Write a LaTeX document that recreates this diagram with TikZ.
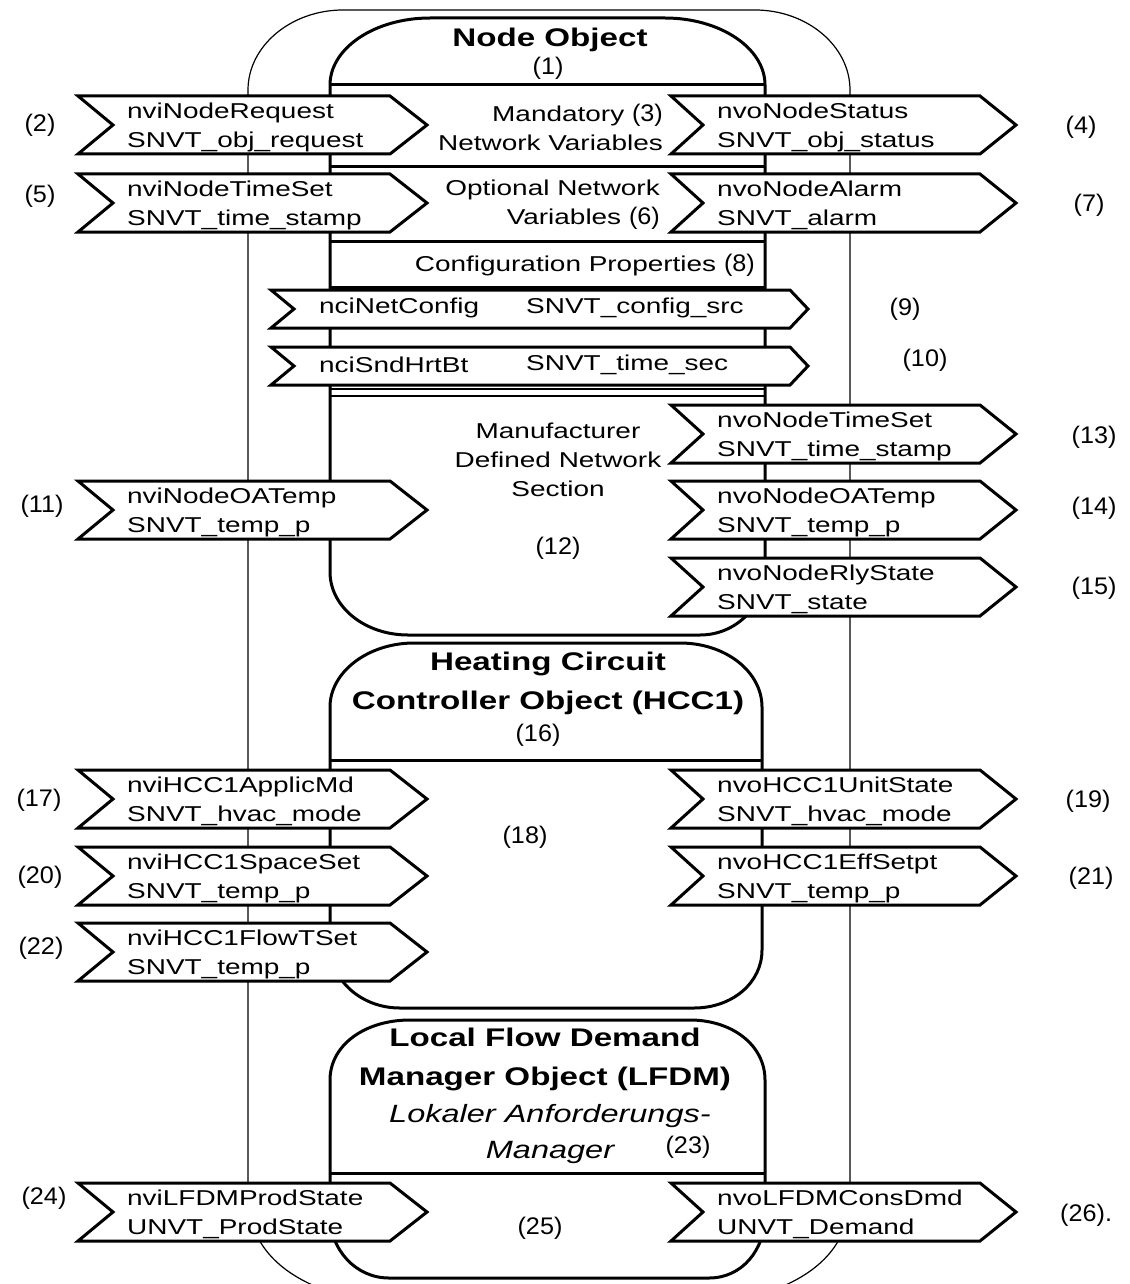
\documentclass[tikz,border=0pt]{standalone}
\usepackage{fontspec}
\setmainfont{Liberation Sans}
\newfontfamily\lblfont[FakeStretch=1.3]{Liberation Sans}
\newfontfamily\numfont[FakeStretch=1.05]{Liberation Sans}
\newcommand{\inum}[1]{{\numfont\fontsize{24}{29}\selectfont #1}}
\tikzset{
  thinline/.style={line width=1.2pt},
  thickline/.style={line width=3pt},
  chevbox/.style={line width=3pt, fill=white, line join=miter},
  lbl/.style={font=\lblfont\fontsize{21.5}{29}\selectfont, inner sep=0pt, align=left},
  num/.style={font=\numfont\fontsize{24}{28}\selectfont, inner sep=0pt},
  ttl/.style={font=\lblfont\bfseries\fontsize{25.5}{39}\selectfont, inner sep=0pt, align=center},
  ital/.style={font=\lblfont\itshape\fontsize{25}{36}\selectfont, inner sep=0pt, align=center},
}
% xl, yt, xr, xt, notch, h
\newcommand{\chevshape}[6]{%
  \draw[chevbox] (#1,#2) -- (#3,#2) -- (#4,{#2+#6/2}) -- (#3,{#2+#6}) -- (#1,{#2+#6}) -- ({#1+#5},{#2+#6/2}) -- cycle;}
\newcommand{\leftchev}[3]{%
  \chevshape{78}{#2}{390}{427}{35}{58}
  \node[lbl, anchor=west] (#1) at (127,{#2+31}) {#3};}
\newcommand{\rightchev}[3]{%
  \chevshape{671}{#2}{980}{1016}{32}{58}
  \node[lbl, anchor=west] (#1) at (717,{#2+31}) {#3};}
\begin{document}
\begin{tikzpicture}[x=1pt,y=-1pt]
\fill[white] (0,0) rectangle (1129,1284);
\useasboundingbox (0,0) rectangle (1129,1284);
% outer thin outline
\draw[thinline] (330,1292) .. controls (275,1273) and (248,1240) .. (248,1195) -- (248,90)
  .. controls (248,46) and (291,10) .. (343,10) -- (755,10)
  .. controls (807,10) and (850,46) .. (850,90) -- (850,1195)
  .. controls (850,1240) and (823,1273) .. (768,1292);
% Node Object box
\draw[thickline] (330,85) .. controls (330,48) and (375,18) .. (430,18) -- (665,18)
  .. controls (720,18) and (765,48) .. (765,85) -- (765,570)
  .. controls (765,606) and (736,635) .. (700,635) -- (408,635)
  .. controls (365,635) and (330,607) .. (330,572) -- cycle;
\draw[thickline] (330,85) -- (765,85);
\draw[thickline] (330,167) -- (765,167);
\draw[thickline] (330,241) -- (765,241);
\draw[thickline] (330,287) -- (765,287);
\draw[line width=2pt] (330,389) -- (765,389);
\draw[line width=2pt] (330,396) -- (765,396);
% HCC box
\draw[thickline] (330,707) .. controls (330,672) and (368,643) .. (414,643) -- (680,643)
  .. controls (726,643) and (762,672) .. (762,707) -- (762,950)
  .. controls (762,983) and (732,1008) .. (694,1008) -- (400,1008)
  .. controls (361,1008) and (330,980) .. (330,945) -- cycle;
\draw[thickline] (330,760) -- (762,760);
% LFDM box
\draw[thickline] (330,1080) .. controls (330,1045) and (365,1020) .. (410,1020) -- (690,1020)
  .. controls (732,1020) and (765,1045) .. (765,1080) -- (765,1215)
  .. controls (765,1250) and (742,1278) .. (709,1278) -- (389,1278)
  .. controls (356,1278) and (330,1250) .. (330,1215) -- cycle;
\draw[thickline] (330,1173) -- (765,1173);

% arrows
\leftchev{a2}{96}{nviNodeRequest\\SNVT\_obj\_request}
\rightchev{a4}{96}{nvoNodeStatus\\SNVT\_obj\_status}
\leftchev{a5}{174}{nviNodeTimeSet\\SNVT\_time\_stamp}
\rightchev{a7}{174}{nvoNodeAlarm\\SNVT\_alarm}
\chevshape{271}{290}{790}{808}{23}{38}
\node[lbl, anchor=west] (a9a) at (319,308) {nciNetConfig};
\node[lbl, anchor=west] (a9b) at (526,308) {SNVT\_config\_src};
\chevshape{271}{347}{790}{808}{23}{38}
\node[lbl, anchor=west] (a10a) at (319,365) {nciSndHrtBt};
\node[lbl, anchor=west] (a10b) at (526,365) {SNVT\_time\_sec};
\rightchev{a13}{405}{nvoNodeTimeSet\\SNVT\_time\_stamp}
\leftchev{a11}{481}{nviNodeOATemp\\SNVT\_temp\_p}
\rightchev{a14}{481}{nvoNodeOATemp\\SNVT\_temp\_p}
\rightchev{a15}{558}{nvoNodeRlyState\\SNVT\_state}
\leftchev{a17}{770}{nviHCC1ApplicMd\\SNVT\_hvac\_mode}
\rightchev{a19}{770}{nvoHCC1UnitState\\SNVT\_hvac\_mode}
\leftchev{a20}{847}{nviHCC1SpaceSet\\SNVT\_temp\_p}
\rightchev{a21}{847}{nvoHCC1EffSetpt\\SNVT\_temp\_p}
\leftchev{a22}{923}{nviHCC1FlowTSet\\SNVT\_temp\_p}
\leftchev{a24}{1183}{nviLFDMProdState\\UNVT\_ProdState}
\rightchev{a26}{1183}{nvoLFDMConsDmd\\UNVT\_Demand}

% box texts
\node[ttl] (t1) at (550,40) {Node Object};
\node[num] (n1) at (548,68) {(1)};
\node[lbl, align=right, anchor=east] (mand) at (663,127) {Mandatory \inum{(3)}\\Network Variables};
\node[lbl, align=right, anchor=east] (opt) at (660,205) {Optional Network\\Variables \inum{(6)}};
\node[lbl, anchor=east] (conf) at (755,265) {Configuration Properties \inum{(8)}};
\node[lbl, align=center] (mfr) at (558,460) {Manufacturer\\Defined Network\\Section};
\node[num] (n12) at (558,548) {(12)};
\node[ttl] (hcc) at (548,683) {Heating Circuit\\Controller Object (HCC1)};
\node[num] (n16) at (538,735) {(16)};
\node[num] (n18) at (525,837) {(18)};
\node[ttl] (lfdm) at (545,1059) {Local Flow Demand\\Manager Object (LFDM)};
\node[ital] (lam) at (550,1134) {Lokaler Anforderungs-\\Manager};
\node[num] (n23) at (688,1147) {(23)};
\node[num] (n25) at (540,1228) {(25)};

% outside numbers
\node[num] (n2) at (40,125) {(2)};
\node[num] (n4) at (1081,127) {(4)};
\node[num] (n5) at (40,196) {(5)};
\node[num] (n7) at (1089,205) {(7)};
\node[num] (n9) at (905,309) {(9)};
\node[num] (n10) at (925,360) {(10)};
\node[num] (n13) at (1094,437) {(13)};
\node[num] (n11) at (42,506) {(11)};
\node[num] (n14) at (1094,508) {(14)};
\node[num] (n15) at (1094,588) {(15)};
\node[num] (n17) at (39,800) {(17)};
\node[num] (n19) at (1088,801) {(19)};
\node[num] (n20) at (40,877) {(20)};
\node[num] (n21) at (1091,878) {(21)};
\node[num] (n22) at (41,948) {(22)};
\node[num] (n24) at (44,1198) {(24)};
\node[num, anchor=west] (n26) at (1060,1215) {(26).};
\end{tikzpicture}
\end{document}
